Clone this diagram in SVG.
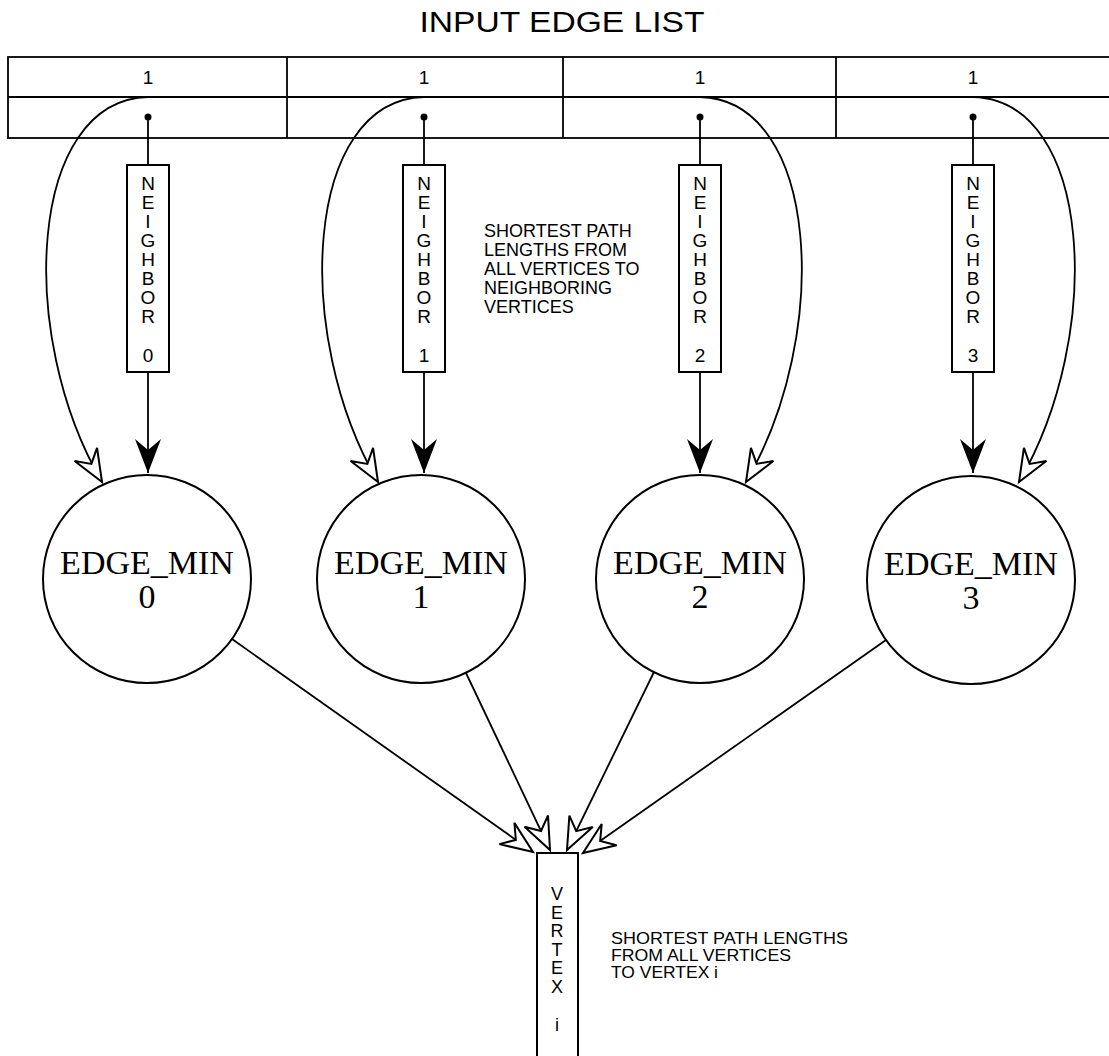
<svg xmlns="http://www.w3.org/2000/svg" width="1109" height="1056" viewBox="0 0 1109 1056">
<style>
.ln{fill:none;stroke:#000;stroke-width:1.8}
.bx{fill:#fff;stroke:#000;stroke-width:2}
.sans{font-family:"Liberation Sans",Arial,sans-serif;fill:#000}
.serif{font-family:"Liberation Serif","Times New Roman",serif;fill:#000;font-size:34px;text-anchor:middle}
.vt{font-family:"Liberation Sans",Arial,sans-serif;font-size:19px;text-anchor:middle;fill:#000}
.vt2{font-family:"Liberation Sans",Arial,sans-serif;font-size:18px;text-anchor:middle;fill:#000}
.note{font-family:"Liberation Sans",Arial,sans-serif;font-size:18px;fill:#000}
.note2{font-family:"Liberation Sans",Arial,sans-serif;font-size:16.5px;fill:#000}
</style>
<defs>
<marker id="solid" markerUnits="userSpaceOnUse" orient="auto" overflow="visible" markerWidth="1" markerHeight="1" refX="0" refY="0">
<path d="M0,0 L-34,-13 L-23,0 L-34,13 Z" fill="#000"/>
</marker>
<marker id="hollow" markerUnits="userSpaceOnUse" orient="auto" overflow="visible" markerWidth="1" markerHeight="1" refX="0" refY="0">
<path d="M0,0 L-32,-13 L-21,0 L-32,13 Z" fill="#fff" stroke="#000" stroke-width="2" stroke-linejoin="miter"/>
</marker>
</defs>
<rect width="1109" height="1056" fill="#fff"/>

<text class="sans" x="562" y="32" font-size="30" text-anchor="middle" textLength="285" lengthAdjust="spacingAndGlyphs">INPUT EDGE LIST</text>

<g id="edge-list">
<rect x="8" y="57" width="1110" height="81" class="ln" stroke-width="2"/>
<line x1="8" y1="97" x2="1109" y2="97" class="ln"/>
<line x1="287" y1="57" x2="287" y2="138" class="ln"/>
<line x1="563" y1="57" x2="563" y2="138" class="ln"/>
<line x1="836" y1="57" x2="836" y2="138" class="ln"/>
<text class="sans" x="148" y="84" font-size="19" text-anchor="middle">1</text>
<text class="sans" x="424" y="84" font-size="19" text-anchor="middle">1</text>
<text class="sans" x="700" y="84" font-size="19" text-anchor="middle">1</text>
<text class="sans" x="973" y="84" font-size="19" text-anchor="middle">1</text>
<circle cx="148" cy="117" r="3.5"/>
<circle cx="424" cy="117" r="3.5"/>
<circle cx="700" cy="117" r="3.5"/>
<circle cx="973" cy="117" r="3.5"/>
</g>

<g id="connectors">
<line x1="148" y1="117" x2="148" y2="165" class="ln"/>
<line x1="424" y1="117" x2="424" y2="165" class="ln"/>
<line x1="700" y1="117" x2="700" y2="165" class="ln"/>
<line x1="973" y1="117" x2="973" y2="165" class="ln"/>
<line x1="148" y1="372" x2="148" y2="473" class="ln" marker-end="url(#solid)"/>
<line x1="424" y1="372" x2="424" y2="473" class="ln" marker-end="url(#solid)"/>
<line x1="700" y1="372" x2="700" y2="473" class="ln" marker-end="url(#solid)"/>
<line x1="973" y1="372" x2="973" y2="473" class="ln" marker-end="url(#solid)"/>
<path d="M148,97 C28,100 16,335 102,482" class="ln" marker-end="url(#hollow)"/>
<path d="M424,97 C304,100 292,335 378,482" class="ln" marker-end="url(#hollow)"/>
<path d="M700,97 C820,100 832,335 746,482" class="ln" marker-end="url(#hollow)"/>
<path d="M973,97 C1093,100 1105,335 1019,482" class="ln" marker-end="url(#hollow)"/>
<line x1="232" y1="639" x2="533" y2="852" class="ln" marker-end="url(#hollow)"/>
<line x1="466" y1="673" x2="550" y2="850" class="ln" marker-end="url(#hollow)"/>
<line x1="654" y1="672" x2="567" y2="850" class="ln" marker-end="url(#hollow)"/>
<line x1="886" y1="640" x2="583" y2="853" class="ln" marker-end="url(#hollow)"/>
</g>

<g id="neighbor0">
<rect x="127" y="165" width="42" height="207" class="bx"/>
<text class="vt"><tspan x="148" y="190">N</tspan><tspan x="148" y="209">E</tspan><tspan x="148" y="228">I</tspan><tspan x="148" y="247">G</tspan><tspan x="148" y="266">H</tspan><tspan x="148" y="285">B</tspan><tspan x="148" y="304">O</tspan><tspan x="148" y="323">R</tspan><tspan x="148" y="362">0</tspan></text>
</g>
<g id="neighbor1">
<rect x="403" y="165" width="42" height="207" class="bx"/>
<text class="vt"><tspan x="424" y="190">N</tspan><tspan x="424" y="209">E</tspan><tspan x="424" y="228">I</tspan><tspan x="424" y="247">G</tspan><tspan x="424" y="266">H</tspan><tspan x="424" y="285">B</tspan><tspan x="424" y="304">O</tspan><tspan x="424" y="323">R</tspan><tspan x="424" y="362">1</tspan></text>
</g>
<g id="neighbor2">
<rect x="679" y="165" width="42" height="207" class="bx"/>
<text class="vt"><tspan x="700" y="190">N</tspan><tspan x="700" y="209">E</tspan><tspan x="700" y="228">I</tspan><tspan x="700" y="247">G</tspan><tspan x="700" y="266">H</tspan><tspan x="700" y="285">B</tspan><tspan x="700" y="304">O</tspan><tspan x="700" y="323">R</tspan><tspan x="700" y="362">2</tspan></text>
</g>
<g id="neighbor3">
<rect x="952" y="165" width="42" height="207" class="bx"/>
<text class="vt"><tspan x="973" y="190">N</tspan><tspan x="973" y="209">E</tspan><tspan x="973" y="228">I</tspan><tspan x="973" y="247">G</tspan><tspan x="973" y="266">H</tspan><tspan x="973" y="285">B</tspan><tspan x="973" y="304">O</tspan><tspan x="973" y="323">R</tspan><tspan x="973" y="362">3</tspan></text>
</g>

<g id="note-neighbor">
<text class="note"><tspan x="484" y="237">SHORTEST PATH</tspan><tspan x="484" y="256">LENGTHS FROM</tspan><tspan x="484" y="275">ALL VERTICES TO</tspan><tspan x="484" y="294">NEIGHBORING</tspan><tspan x="484" y="313">VERTICES</tspan></text>
</g>

<g id="edge_min0">
<circle cx="147" cy="579" r="104" class="bx"/>
<text class="serif"><tspan x="147" y="574">EDGE_MIN</tspan><tspan x="147" y="608">0</tspan></text>
</g>
<g id="edge_min1">
<circle cx="421" cy="579" r="104" class="bx"/>
<text class="serif"><tspan x="421" y="574">EDGE_MIN</tspan><tspan x="421" y="608">1</tspan></text>
</g>
<g id="edge_min2">
<circle cx="700" cy="579" r="104" class="bx"/>
<text class="serif"><tspan x="700" y="574">EDGE_MIN</tspan><tspan x="700" y="608">2</tspan></text>
</g>
<g id="edge_min3">
<circle cx="971" cy="580" r="104" class="bx"/>
<text class="serif"><tspan x="971" y="575">EDGE_MIN</tspan><tspan x="971" y="609">3</tspan></text>
</g>

<g id="vertex">
<rect x="537" y="853" width="41" height="220" class="bx"/>
<text class="vt2"><tspan x="557" y="900">V</tspan><tspan x="557" y="918.6">E</tspan><tspan x="557" y="937.2">R</tspan><tspan x="557" y="955.8">T</tspan><tspan x="557" y="974.4">E</tspan><tspan x="557" y="993">X</tspan><tspan x="557" y="1031">i</tspan></text>
</g>

<g id="note-vertex">
<text class="note2"><tspan x="611" y="944" textLength="237" lengthAdjust="spacingAndGlyphs">SHORTEST PATH LENGTHS</tspan><tspan x="611" y="961" textLength="180" lengthAdjust="spacingAndGlyphs">FROM ALL VERTICES</tspan><tspan x="611" y="978" textLength="107" lengthAdjust="spacingAndGlyphs">TO VERTEX i</tspan></text>
</g>
</svg>
